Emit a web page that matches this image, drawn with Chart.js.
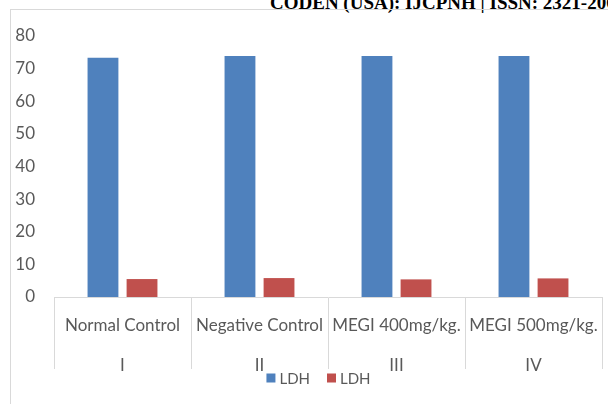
<!DOCTYPE html>
<html>
<head>
<meta charset="utf-8">
<script src="https://cdn.jsdelivr.net/npm/chart.js@4/dist/chart.umd.min.js"></script>
<style>
  html, body { margin: 0; padding: 0; background: #fff; overflow: hidden; }
  #wrap { position: relative; width: 608px; height: 404px; }
  #frame { position: absolute; left: 10px; top: 9px; width: 800px; height: 600px;
           border-left: 1px solid #d9d9d9; border-top: 1px solid #d9d9d9; }
  #head { position: absolute; left: 270px; top: -7px; white-space: nowrap;
          font: bold 19px "Liberation Serif", serif; color: #000; line-height: 19px; }
  canvas { position: absolute; left: 0; top: 0; }
</style>
</head>
<body>
<div id="wrap">
  <div id="head">CODEN (USA): IJCPNH | ISSN: 2321-2067</div>
  <div id="frame"></div>
  <canvas id="c" width="608" height="404"></canvas>
</div>
<script>
// groups and their roman-numeral subgroup labels
const groups = ["Normal Control", "Negative Control", "MEGI 400mg/kg.", "MEGI 500mg/kg."];
const romans = ["I", "II", "III", "IV"];
// LDH series values
const ldhA = [73.3, 73.9, 73.9, 73.9];
const ldhB = [5.5, 5.8, 5.4, 5.7];
// value axis ticks
const yMin = 0, yMax = 80, yStep = 10;

const labels = groups.map((g, i) => [g, romans[i]]);
const font = "Lato, 'Open Sans', sans-serif";
const grey = "#595959";

// Legend row drawn on top of the lower axis area, centred under the plot
const overlayLegend = {
  id: "overlayLegend",
  afterDraw(chart) {
    const ctx = chart.ctx;
    const box = 9, gapText = 4, gapItem = 17;
    ctx.save();
    ctx.font = "15px " + font;
    ctx.textBaseline = "middle";
    const items = chart.data.datasets.map(d => ({
      text: d.label, color: d.backgroundColor, w: box + gapText + ctx.measureText(d.label).width
    }));
    const total = items.reduce((s, it) => s + it.w, 0) + gapItem * (items.length - 1);
    let x = 318.5 - total / 2;
    const y = 378;
    items.forEach(it => {
      ctx.fillStyle = it.color;
      ctx.fillRect(x, y - box / 2, box, box);
      ctx.fillStyle = grey;
      ctx.fillText(it.text, x + box + gapText, y + 1);
      x += it.w + gapItem;
    });
    ctx.restore();
  }
};

new Chart(document.getElementById("c"), {
  type: "bar",
  data: {
    labels: labels,
    datasets: [
      { label: "LDH", data: ldhA, backgroundColor: "#4f81bd", borderWidth: 0 },
      { label: "LDH", data: ldhB, backgroundColor: "#c0504d", borderWidth: 0 }
    ]
  },
  plugins: [overlayLegend],
  options: {
    responsive: false,
    animation: false,
    datasets: { bar: { categoryPercentage: 0.57, barPercentage: 0.79 } },
    layout: { padding: { left: 10, right: 6, top: 36, bottom: 30 } },
    plugins: {
      tooltip: { enabled: false },
      legend: { display: false }
    },
    scales: {
      y: {
        min: yMin, max: yMax,
        ticks: { stepSize: yStep, color: grey, padding: 19, font: { family: font, size: 17 } },
        grid: { display: false, drawTicks: false },
        border: { display: false },
        afterFit: s => { s.width = 44; }
      },
      x: {
        offset: true,
        grid: { display: true, drawOnChartArea: false, drawTicks: true, tickLength: 72,
                color: "#d9d9d9", offset: true },
        border: { display: true, color: "#d9d9d9" },
        ticks: { color: grey, padding: -63, maxRotation: 0, autoSkip: false,
                 font: { family: font, size: 17, lineHeight: 2.35 } },
        afterFit: s => { s.height = 77; }
      }
    }
  }
});
</script>
</body>
</html>
